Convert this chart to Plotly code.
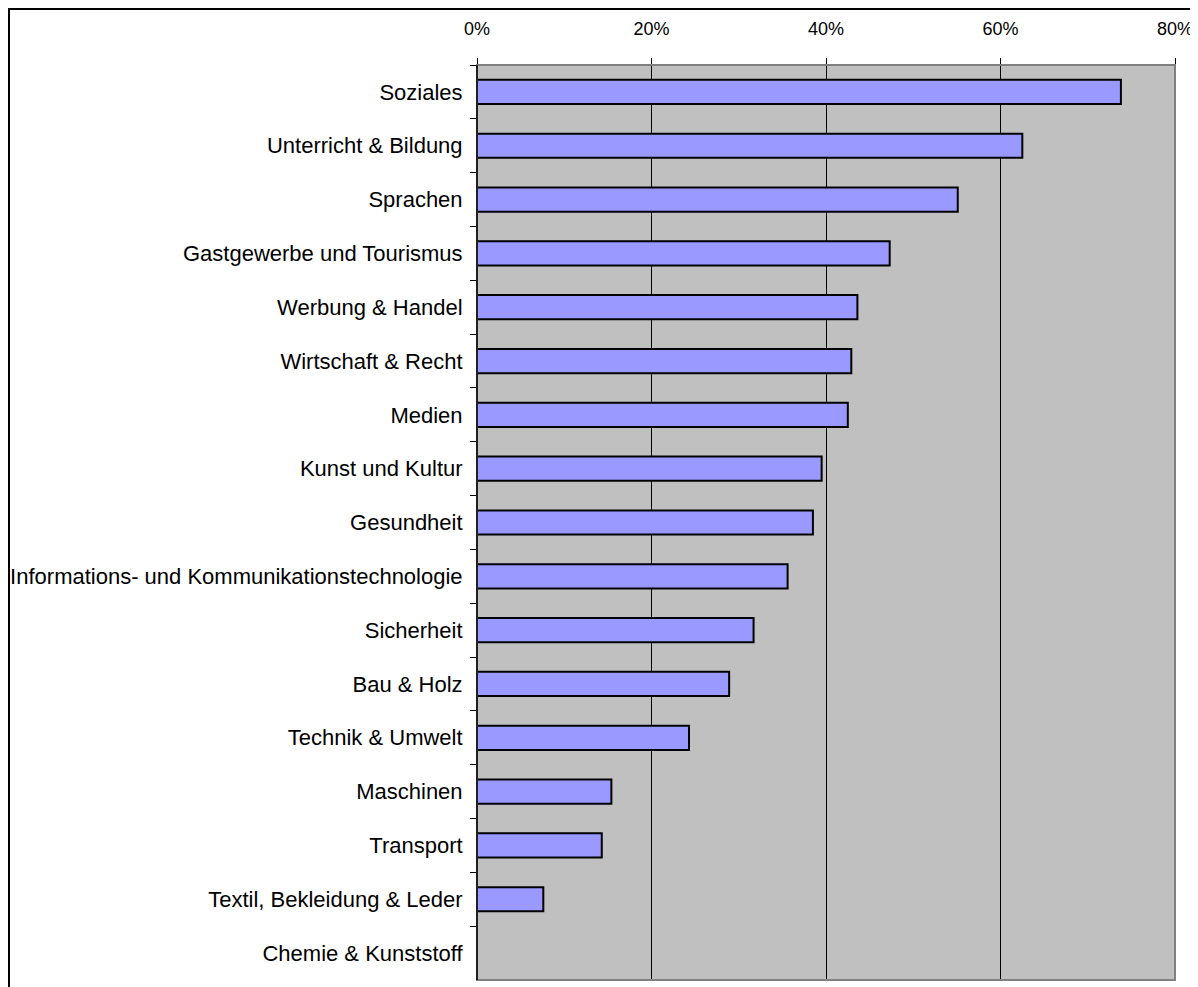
import plotly.graph_objects as go

categories = ["Soziales", "Unterricht & Bildung", "Sprachen", "Gastgewerbe und Tourismus",
              "Werbung & Handel", "Wirtschaft & Recht", "Medien", "Kunst und Kultur",
              "Gesundheit", "Informations- und Kommunikationstechnologie", "Sicherheit",
              "Bau & Holz", "Technik & Umwelt", "Maschinen", "Transport",
              "Textil, Bekleidung & Leder", "Chemie & Kunststoff"]
values = [0.738, 0.625, 0.551, 0.473, 0.436, 0.429, 0.425, 0.395, 0.385,
          0.356, 0.317, 0.289, 0.243, 0.154, 0.143, 0.076, 0.0]
x_ticks = [0, 0.2, 0.4, 0.6, 0.8]
x_tick_labels = ["0%", "20%", "40%", "60%", "80%"]

FONT = "Liberation Sans Narrow, Arial Narrow, Liberation Sans, Arial, sans-serif"

L, R, T, B = 469, 31, 57, 15
PW, PH = 1198 - L - R, 987 - T - B

fig = go.Figure(go.Bar(
    x=values, y=categories, orientation="h",
    marker=dict(color="#9999FF", line=dict(color="black", width=2)),
    width=0.45,
))

fig.update_layout(
    width=1198, height=987,
    margin=dict(l=L, r=R, t=T, b=B),
    paper_bgcolor="white", plot_bgcolor="#C0C0C0",
    showlegend=False,
    font=dict(family=FONT, color="black"),
)
fig.update_xaxes(
    side="top", range=[0, 0.8], tickvals=x_ticks, ticktext=x_tick_labels,
    showgrid=True, gridcolor="black", gridwidth=1,
    ticks="outside", ticklen=6, tickcolor="black",
    tickfont=dict(size=18, family=FONT), zeroline=False, showline=False,
    automargin=False, ticklabelstandoff=16,
)
fig.update_yaxes(
    autorange="reversed", type="category", tickson="boundaries",
    ticks="outside", ticklen=6, tickcolor="black",
    showline=True, linecolor="black", linewidth=1, mirror=False,
    tickfont=dict(size=22, family=FONT), showgrid=False,
    ticklabelstandoff=9, automargin=False,
)
fig.add_shape(type="rect", xref="paper", yref="paper", x0=0, x1=1, y0=0, y1=1,
              line=dict(color="#808080", width=2), layer="above")
fig.add_shape(type="line", xref="paper", yref="paper", x0=0, x1=0, y0=0, y1=1,
              line=dict(color="black", width=1.5), layer="above")
fig.add_shape(type="rect", xref="paper", yref="paper",
              x0=(1 - L) / PW, x1=(1185 - L) / PW,
              y0=(T + PH - 1000) / PH, y1=(T + PH - 1) / PH,
              line=dict(color="black", width=2), layer="below")

fig.write_html("out.html")
